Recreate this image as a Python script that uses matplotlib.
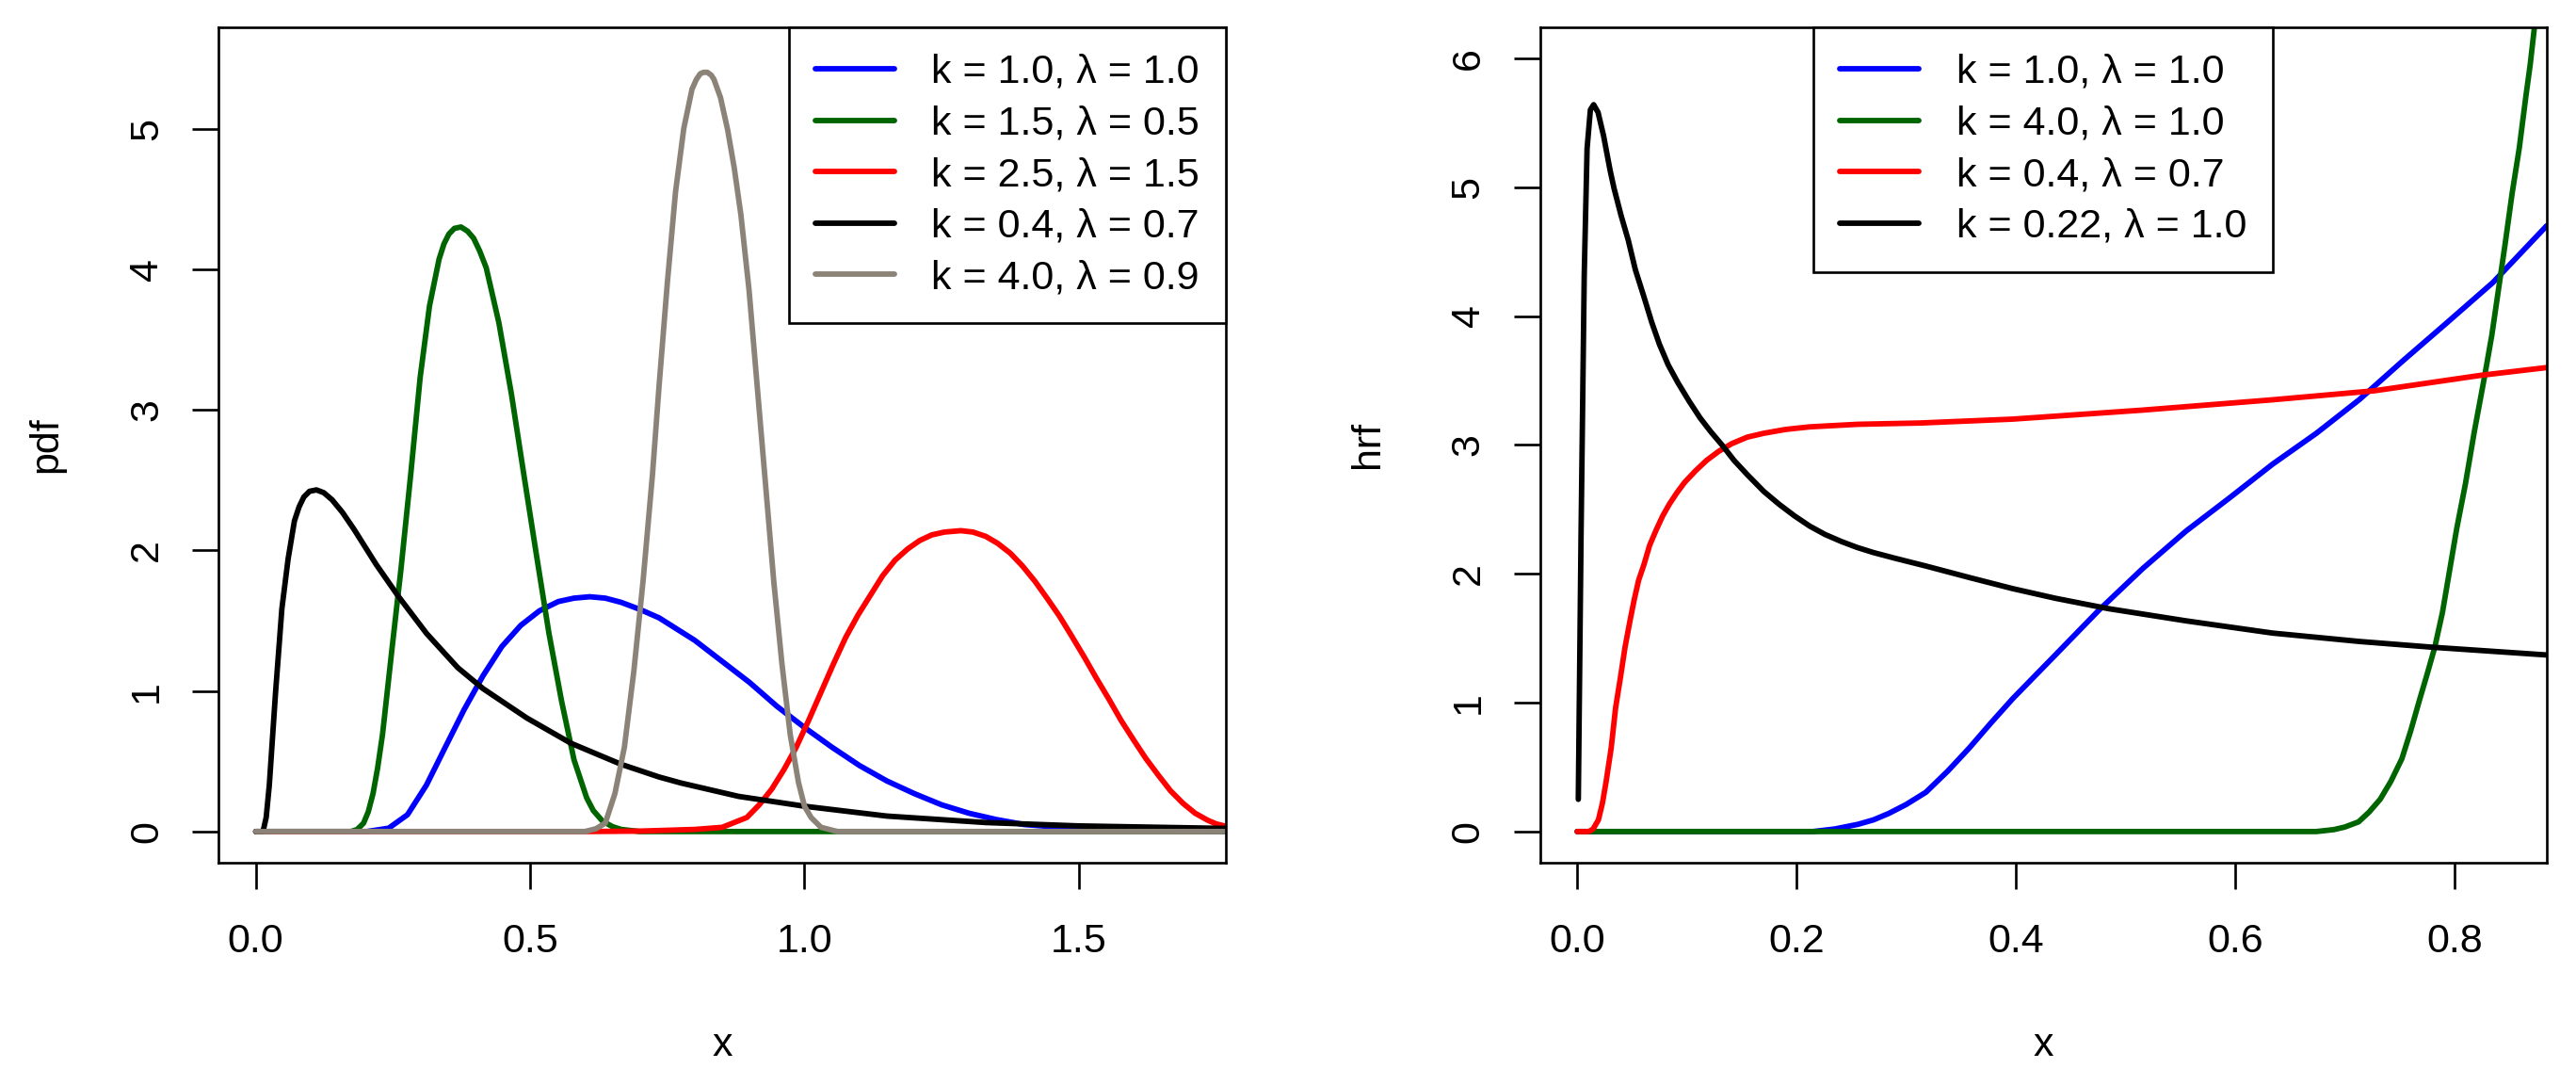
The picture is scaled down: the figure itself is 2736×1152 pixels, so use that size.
import matplotlib
matplotlib.use("Agg")
import matplotlib.pyplot as plt

plt.rcParams['font.family'] = ['Liberation Sans', 'DejaVu Sans']

# ---- left panel: pdf curves ----
pdf_labels = ["k = 1.0, λ = 1.0", "k = 1.5, λ = 0.5", "k = 2.5, λ = 1.5",
              "k = 0.4, λ = 0.7", "k = 4.0, λ = 0.9"]
pdf_colors = ["#0000FF", "#006400", "#FF0000", "#000000", "#8B8378"]

pdf_blue_x = [0.0, 0.2022, 0.2423, 0.2766, 0.311, 0.3454, 0.3797, 0.414, 0.4485, 0.4828,
              0.517, 0.5515, 0.58, 0.6087, 0.637, 0.666, 0.7, 0.735, 0.8, 0.85, 0.9, 0.95,
              1.0, 1.05, 1.1, 1.15, 1.2, 1.25, 1.3, 1.35, 1.4, 1.5, 1.6, 1.8]
pdf_blue_y = [0.0, 0.0, 0.024, 0.12, 0.33, 0.60, 0.867, 1.107, 1.316, 1.466,
              1.57, 1.636, 1.66, 1.67, 1.66, 1.63, 1.58, 1.52, 1.36, 1.21, 1.06, 0.89,
              0.74, 0.60, 0.47, 0.36, 0.27, 0.19, 0.13, 0.085, 0.05, 0.02, 0.007, 0.0]

pdf_green_x = [0.0, 0.1735, 0.185, 0.1965, 0.205, 0.2137, 0.222, 0.231, 0.248, 0.265,
               0.2824, 0.2996, 0.3167, 0.334, 0.343, 0.352, 0.362, 0.374, 0.386, 0.397,
               0.408, 0.42, 0.443, 0.466, 0.4885, 0.5114, 0.5343, 0.5572, 0.58, 0.603,
               0.615, 0.6317, 0.65, 0.666, 0.7, 1.8]
pdf_green_y = [0.0, 0.0, 0.015, 0.06, 0.14, 0.27, 0.45, 0.69, 1.29, 1.88,
               2.54, 3.23, 3.74, 4.07, 4.18, 4.25, 4.29, 4.30, 4.27, 4.22,
               4.13, 4.01, 3.62, 3.11, 2.54, 1.97, 1.41, 0.93, 0.51, 0.24,
               0.15, 0.075, 0.035, 0.015, 0.0, 0.0]

pdf_red_x = [0.0, 0.6, 0.7, 0.8, 0.85, 0.895, 0.9175, 0.94, 0.9625, 0.985, 1.0075, 1.03,
             1.0525, 1.075, 1.0975, 1.12, 1.1425, 1.165, 1.188, 1.21, 1.232, 1.255,
             1.285, 1.307, 1.33, 1.352, 1.375, 1.397, 1.42, 1.442, 1.465, 1.487, 1.51,
             1.532, 1.555, 1.577, 1.6, 1.622, 1.645, 1.667, 1.69, 1.712, 1.735, 1.75,
             1.77, 1.8]
pdf_red_y = [0.0, 0.0, 0.003, 0.015, 0.03, 0.1, 0.19, 0.3, 0.44, 0.6, 0.79, 0.99,
             1.19, 1.38, 1.54, 1.68, 1.82, 1.93, 2.01, 2.07, 2.11, 2.13,
             2.14, 2.13, 2.10, 2.05, 1.98, 1.89, 1.78, 1.66, 1.53, 1.39, 1.24,
             1.09, 0.94, 0.79, 0.65, 0.52, 0.40, 0.29, 0.20, 0.13, 0.08, 0.055,
             0.035, 0.02]

pdf_black_x = [0.0, 0.0132, 0.019, 0.0247, 0.0361, 0.0476, 0.059, 0.0705, 0.079, 0.0877,
               0.098, 0.1106, 0.124, 0.139, 0.158, 0.179, 0.2194, 0.2595, 0.311, 0.368,
               0.414, 0.4942, 0.5744, 0.666, 0.735, 0.775, 0.88, 1.0, 1.15, 1.33, 1.5,
               1.8]
pdf_black_y = [0.0, 0.0, 0.1, 0.33, 0.99, 1.585, 1.94, 2.21, 2.31, 2.38,
               2.42, 2.43, 2.41, 2.36, 2.27, 2.15, 1.90, 1.675, 1.41, 1.166,
               1.017, 0.807, 0.628, 0.478, 0.388, 0.345, 0.25, 0.18, 0.11, 0.064, 0.04,
               0.02]

pdf_gray_x = [0.0, 0.6, 0.62, 0.637, 0.6545, 0.6718, 0.689, 0.706, 0.723, 0.735, 0.75,
              0.765, 0.78, 0.795, 0.803, 0.81, 0.816, 0.823, 0.83, 0.835, 0.847, 0.86,
              0.872, 0.884, 0.899, 0.914, 0.929, 0.944, 0.959, 0.974, 0.989, 1.0, 1.012,
              1.03, 1.06, 1.8]
pdf_gray_y = [0.0, 0.0, 0.02, 0.06, 0.27, 0.60, 1.14, 1.79, 2.54, 3.17, 3.9,
              4.55, 5.0, 5.28, 5.35, 5.39, 5.40, 5.40, 5.38, 5.35, 5.22, 4.99,
              4.72, 4.39, 3.85, 3.16, 2.47, 1.78, 1.19, 0.69, 0.35, 0.18, 0.10,
              0.03, 0.0, 0.0]

# ---- right panel: hazard rate curves ----
hrf_labels = ["k = 1.0, λ = 1.0", "k = 4.0, λ = 1.0", "k = 0.4, λ = 0.7",
              "k = 0.22, λ = 1.0"]
hrf_colors = ["#0000FF", "#006400", "#FF0000", "#000000"]

hrf_blue_x = [0.0, 0.215, 0.235, 0.256, 0.27, 0.284, 0.3, 0.318, 0.338, 0.3577, 0.377,
              0.397, 0.436, 0.476, 0.5156, 0.555, 0.595, 0.634, 0.674, 0.713, 0.7526,
              0.792, 0.835, 0.884]
hrf_blue_y = [0.0, 0.0, 0.02, 0.056, 0.09, 0.14, 0.21, 0.305, 0.47, 0.65, 0.84,
              1.03, 1.37, 1.72, 2.04, 2.33, 2.59, 2.85, 3.09, 3.35, 3.65,
              3.94, 4.26, 4.70]

hrf_green_x = [0.0, 0.674, 0.69, 0.7, 0.7125, 0.722, 0.7322, 0.742, 0.752, 0.76, 0.7684,
               0.775, 0.782, 0.789, 0.795, 0.802, 0.81, 0.818, 0.8276, 0.834, 0.84,
               0.846, 0.8525, 0.859, 0.865, 0.869, 0.873, 0.885]
hrf_green_y = [0.0, 0.0, 0.015, 0.035, 0.075, 0.15, 0.25, 0.39, 0.565, 0.78, 1.03,
               1.22, 1.43, 1.7, 2.0, 2.35, 2.7, 3.1, 3.54, 3.85, 4.2,
               4.55, 4.95, 5.3, 5.7, 5.95, 6.25, 7.0]

hrf_red_x = [0.0, 0.0107, 0.0145, 0.0193, 0.023, 0.0264, 0.031, 0.035, 0.0395, 0.0436,
             0.048, 0.052, 0.056, 0.0608, 0.066, 0.072, 0.078, 0.084, 0.091, 0.098,
             0.108, 0.118, 0.129, 0.141, 0.155, 0.17, 0.19, 0.212, 0.256, 0.313, 0.397,
             0.5156, 0.634, 0.727, 0.824, 0.884]
hrf_red_y = [0.0, 0.0, 0.02, 0.09, 0.22, 0.39, 0.65, 0.96, 1.2, 1.43,
             1.63, 1.80, 1.95, 2.07, 2.22, 2.34, 2.45, 2.54, 2.63, 2.71,
             2.80, 2.88, 2.95, 3.01, 3.06, 3.09, 3.12, 3.14, 3.16, 3.17, 3.20,
             3.27, 3.35, 3.42, 3.54, 3.60]

hrf_black_x = [0.001, 0.0035, 0.0064, 0.009, 0.012, 0.015, 0.019, 0.024, 0.03, 0.0336,
               0.04, 0.0465, 0.053, 0.0608, 0.068, 0.075, 0.083, 0.092, 0.102, 0.112,
               0.122, 0.132, 0.143, 0.155, 0.17, 0.184, 0.198, 0.212, 0.226, 0.241,
               0.255, 0.27, 0.29, 0.318, 0.358, 0.397, 0.436, 0.484, 0.555, 0.634,
               0.713, 0.78, 0.884]
hrf_black_y = [0.25, 2.31, 4.32, 5.3, 5.6, 5.64, 5.58, 5.4, 5.13, 4.99,
               4.78, 4.59, 4.36, 4.15, 3.95, 3.78, 3.62, 3.48, 3.34, 3.21,
               3.10, 3.00, 2.88, 2.77, 2.64, 2.54, 2.45, 2.37, 2.305, 2.25,
               2.205, 2.165, 2.12, 2.06, 1.97, 1.885, 1.81, 1.73, 1.635, 1.54,
               1.475, 1.43, 1.37]

pdf_series = [(pdf_blue_x, pdf_blue_y), (pdf_green_x, pdf_green_y), (pdf_red_x, pdf_red_y),
              (pdf_black_x, pdf_black_y), (pdf_gray_x, pdf_gray_y)]
hrf_series = [(hrf_blue_x, hrf_blue_y), (hrf_green_x, hrf_green_y), (hrf_red_x, hrf_red_y),
              (hrf_black_x, hrf_black_y)]

FS = 12.9
LW = 1.75


def r_style(ax, xmax, ymax, xticks, yticks, xfmt, ylabel):
    # R default: 4% padding around the data range
    ax.set_xlim(-0.04 * xmax, 1.04 * xmax)
    ax.set_ylim(-0.04 * ymax, 1.04 * ymax)
    ax.set_xticks(xticks)
    ax.set_xticklabels([xfmt.format(t) for t in xticks])
    ax.set_yticks(yticks)
    ax.set_yticklabels([str(t) for t in yticks])
    ax.tick_params(axis='both', direction='out', length=8.4, width=0.8,
                   labelsize=FS, color='black')
    ax.tick_params(axis='x', pad=11)
    ax.tick_params(axis='y', pad=8.4, labelrotation=90)
    for lab in ax.get_yticklabels():
        lab.set_va('center')
    for s in ax.spines.values():
        s.set_linewidth(0.8)
        s.set_color('black')
    ax.set_xlabel("x", fontsize=FS)
    ax.set_ylabel(ylabel, fontsize=FS)
    ax.xaxis.set_label_coords(0.5, -0.219)
    ax.xaxis.label.set_va('center')
    ax.yaxis.set_label_coords(-0.171, 0.5)
    ax.yaxis.label.set_va('center')


fig = plt.figure(figsize=(11.4, 4.8), dpi=240)
ax1 = fig.add_axes([0.0848, 0.2051, 0.3911, 0.7697])
ax2 = fig.add_axes([0.5978, 0.2051, 0.3908, 0.7697])

for (xs, ys), c, lab in zip(pdf_series, pdf_colors, pdf_labels):
    ax1.plot(xs, ys, color=c, lw=LW, label=lab, solid_capstyle='round',
             solid_joinstyle='round')
for (xs, ys), c, lab in zip(hrf_series, hrf_colors, hrf_labels):
    ax2.plot(xs, ys, color=c, lw=LW, label=lab, solid_capstyle='round',
             solid_joinstyle='round')

r_style(ax1, 1.7, 5.5, [0.0, 0.5, 1.0, 1.5], [0, 1, 2, 3, 4, 5], "{:.1f}", "pdf")
r_style(ax2, 0.85, 6.0, [0.0, 0.2, 0.4, 0.6, 0.8], [0, 1, 2, 3, 4, 5, 6], "{:.1f}", "hrf")

leg_kw = dict(fontsize=FS, frameon=True, fancybox=False, framealpha=1,
              edgecolor='black', borderaxespad=0, handlelength=1.96,
              handletextpad=0.92, borderpad=0.65, labelspacing=0.34)
leg1 = ax1.legend(loc='upper right', bbox_to_anchor=(1, 1), **leg_kw)
leg2 = ax2.legend(loc='upper center', bbox_to_anchor=(0.5, 1), **leg_kw)
for leg in (leg1, leg2):
    leg.get_frame().set_linewidth(0.8)
    for h in leg.get_lines():
        h.set_solid_capstyle('round')

fig.savefig("out.png", dpi=240, facecolor='white')
